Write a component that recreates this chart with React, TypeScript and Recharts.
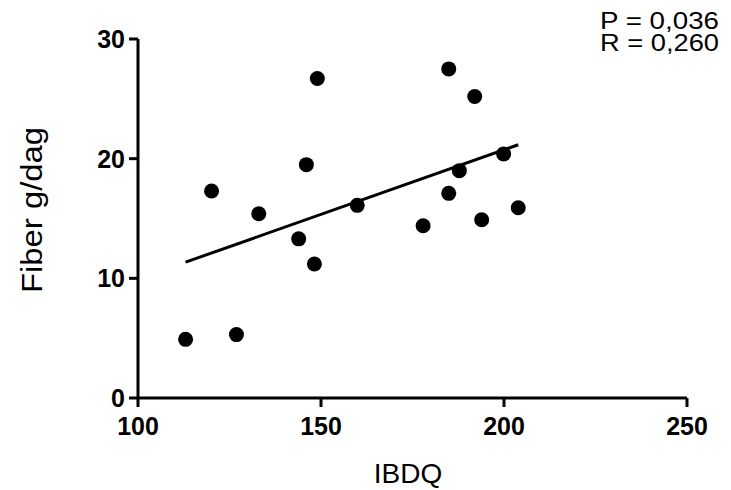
import { Scatter, ScatterChart, XAxis, YAxis } from "recharts";

const ibdq = [113, 120.1, 126.9, 133, 143.9, 146, 148.2, 149, 159.9, 177.9, 184.9, 184.9, 187.8, 192, 193.9, 199.9, 203.9];
const fiber = [4.9, 17.3, 5.3, 15.4, 13.3, 19.5, 11.2, 26.7, 16.1, 14.4, 17.1, 27.5, 19.0, 25.2, 14.9, 20.4, 15.9];
const xTicks = [100, 150, 200, 250];
const yTicks = [0, 10, 20, 30];
const stats = ["P = 0,036", "R = 0,260"];

const font = "'Liberation Sans', Arial, sans-serif";

// least squares fit over the points, drawn from min to max x
function fitLine(xs: number[], ys: number[]) {
  const n = xs.length;
  const mx = xs.reduce((a, b) => a + b, 0) / n;
  const my = ys.reduce((a, b) => a + b, 0) / n;
  let sxy = 0;
  let sxx = 0;
  xs.forEach((x, i) => {
    sxy += (x - mx) * (ys[i] - my);
    sxx += (x - mx) * (x - mx);
  });
  const slope = sxy / sxx;
  const lo = Math.min(...xs);
  const hi = Math.max(...xs);
  return [lo, hi].map((x) => ({ x, y: my + slope * (x - mx) }));
}

export default function App() {
  const points = ibdq.map((x, i) => ({ x, y: fiber[i] }));
  const fit = fitLine(ibdq, fiber);
  const tick = { fill: "#000", fontSize: 25, fontWeight: 700, fontFamily: font };

  return (
    <div style={{ position: "absolute", left: 0, top: 0, width: 731, height: 490, background: "#fff" }}>
      <ScatterChart width={731} height={490} margin={{ top: 39, right: 44, bottom: 0, left: 0 }}>
        <XAxis
          type="number"
          dataKey="x"
          domain={[100, 250]}
          ticks={xTicks}
          allowDataOverflow
          height={92}
          tickSize={9}
          tickMargin={10}
          stroke="#000"
          strokeWidth={3}
          tick={tick}
          tickLine={{ stroke: "#000", strokeWidth: 3 }}
        />
        <YAxis
          type="number"
          dataKey="y"
          domain={[0, 30]}
          ticks={yTicks}
          allowDataOverflow
          width={138}
          tickSize={9}
          tickMargin={4}
          stroke="#000"
          strokeWidth={3}
          tick={tick}
          tickLine={{ stroke: "#000", strokeWidth: 3 }}
        />
        <Scatter
          data={fit}
          line={{ stroke: "#000", strokeWidth: 3 }}
          shape={() => <g />}
          isAnimationActive={false}
        />
        <Scatter
          data={points}
          fill="#000"
          shape={(p: any) => <circle cx={p.cx} cy={p.cy} r={7.5} fill="#000" />}
          isAnimationActive={false}
        />
      </ScatterChart>
      <svg width={731} height={490} style={{ position: "absolute", left: 0, top: 0, pointerEvents: "none" }}>
        <text
          x={42}
          y={210}
          transform="rotate(-90 42 210)"
          textAnchor="middle"
          fontFamily={font}
          fontSize={29}
          textLength={166}
          lengthAdjust="spacingAndGlyphs"
        >
          Fiber g/dag
        </text>
        <text x={408} y={483} textAnchor="middle" fontFamily={font} fontSize={28}>
          IBDQ
        </text>
        {stats.map((s, i) => (
          <text
            key={s}
            x={600}
            y={29 + i * 22}
            fontFamily={font}
            fontSize={23}
            textLength={119}
            lengthAdjust="spacingAndGlyphs"
          >
            {s}
          </text>
        ))}
      </svg>
    </div>
  );
}
